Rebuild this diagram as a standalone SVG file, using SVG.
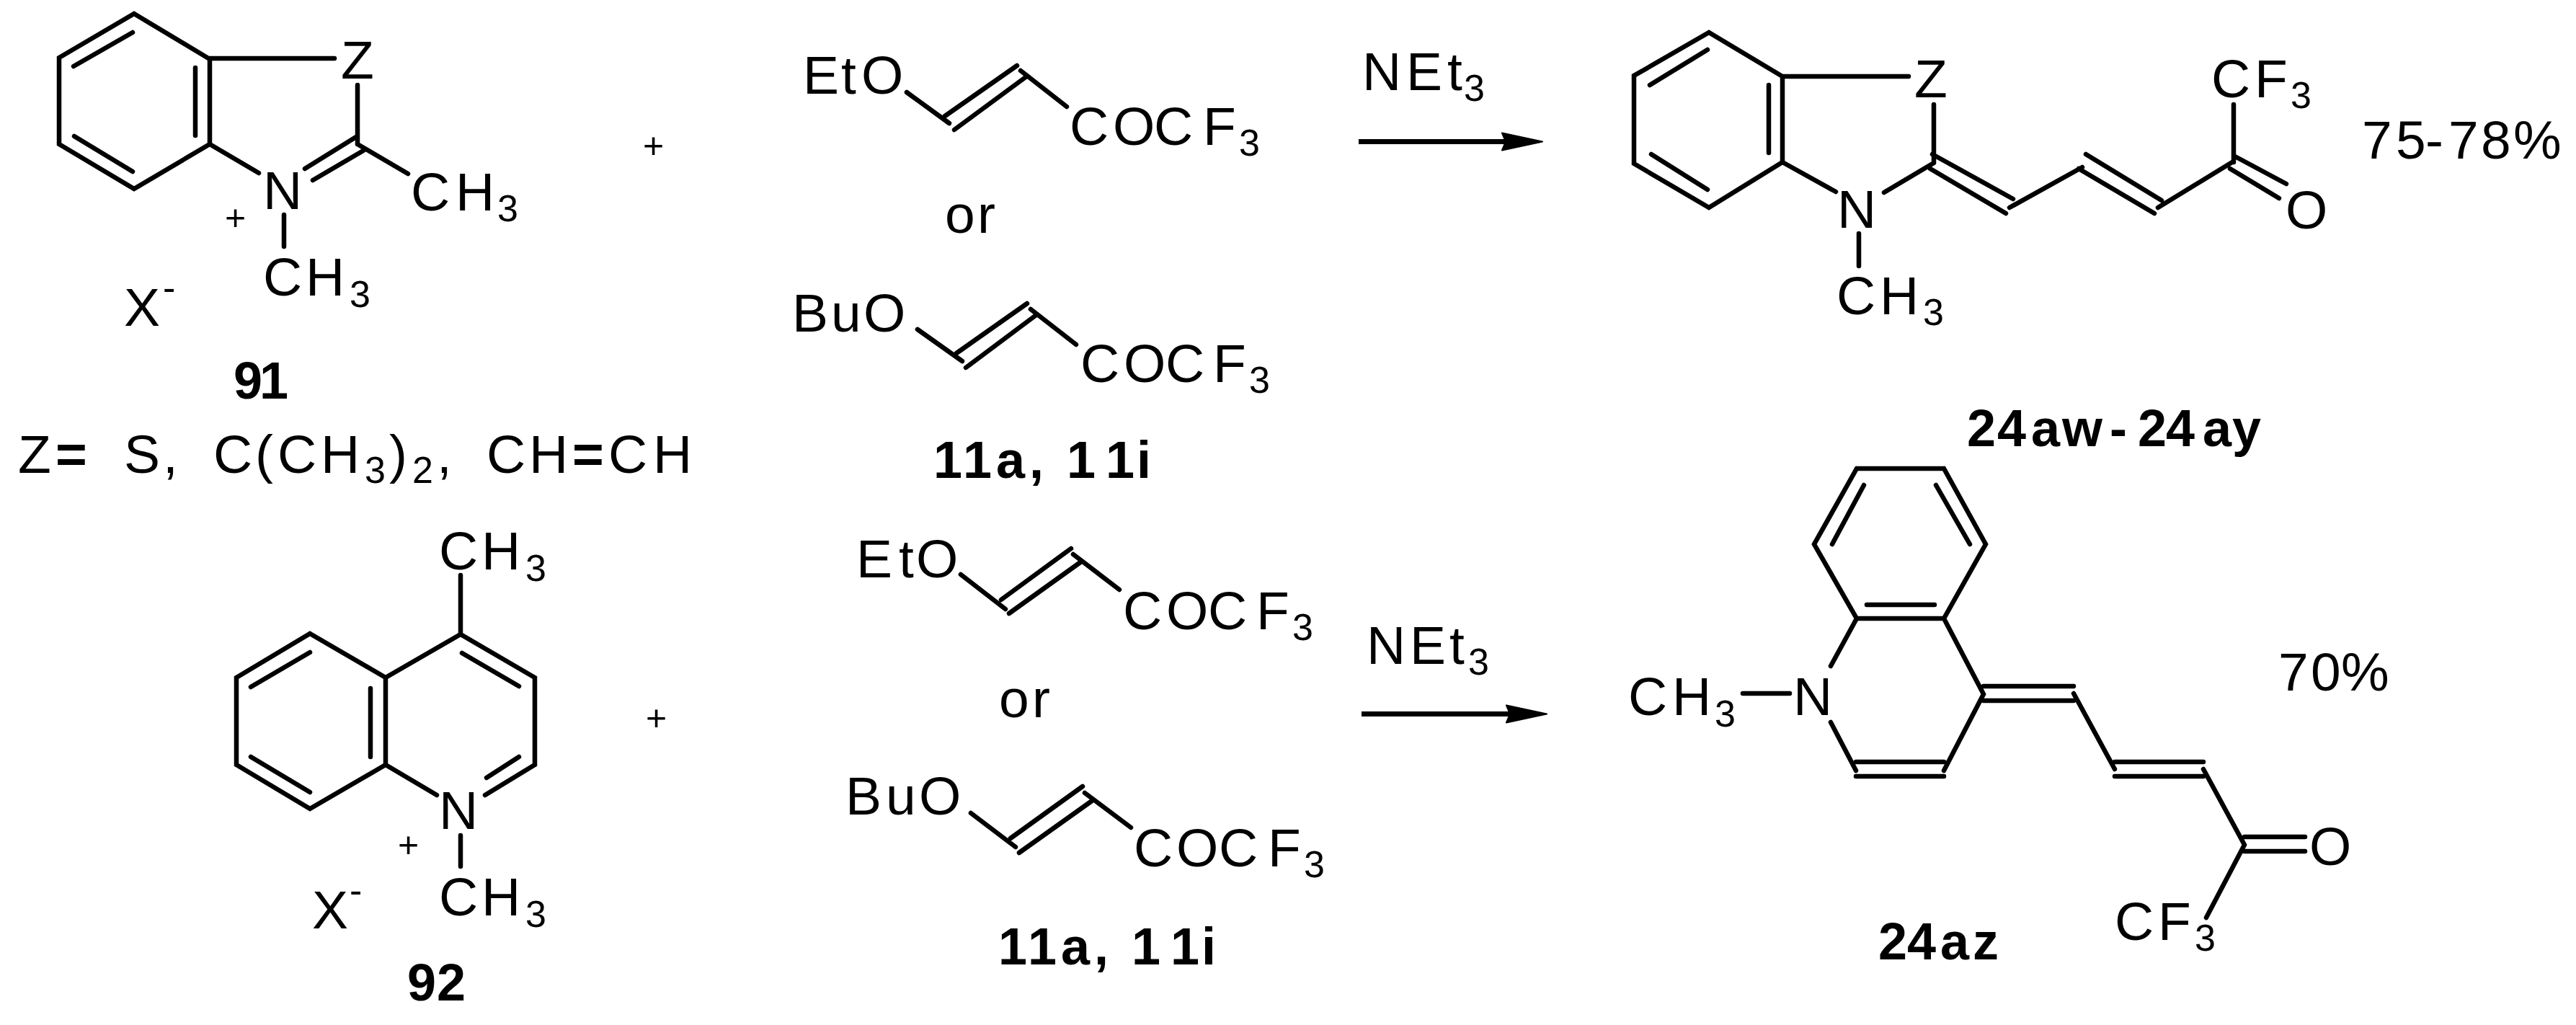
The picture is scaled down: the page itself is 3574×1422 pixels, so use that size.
<svg xmlns="http://www.w3.org/2000/svg" width="3574" height="1422" viewBox="0 0 3574 1422">
<style>
text{font-family:"Liberation Sans",Arial,sans-serif;font-size:75px;fill:#000}
.s{font-size:52px}
.b{font-weight:bold;font-size:72px}
.e{font-weight:bold}
.p{font-size:50px}
.bond{fill:none;stroke:#000;stroke-width:6.5;stroke-linecap:round;stroke-linejoin:miter}
.arrow{fill:none;stroke:#000;stroke-width:7;marker-end:url(#head)}
</style>
<defs>
<marker id="head" markerUnits="userSpaceOnUse" markerWidth="64" markerHeight="34" refX="6" refY="16" orient="auto"><path d="M1,4 L57,16 L1,28 L6,16z" fill="#000" stroke="#000" stroke-width="2" stroke-linejoin="round"/></marker>
</defs>
<rect width="3574" height="1422" fill="#fff"/>
<g id="connectors">
<path class="arrow" d="M1885,196.500H2089"/>
<path class="arrow" d="M1889,990.500H2095"/>
</g>
<g id="compound-91">
<path class="bond" d="M186,19L82,80V200L186,262L291,200V82L186,19M102,92L184,45M271,94V188M103,189L184,238M291,81H464M496,118V200M291,200L359,240M494,190L423,234M504,209L434,250M496,200L566,241M394,298V342"/>
<text x="473" y="109">Z</text>
<text x="365" y="290">N</text>
<text x="570 632" y="292">CH<tspan class="s" x="690" dy="15">3</tspan></text>
<text x="365 424" y="410">CH<tspan class="s" x="485" dy="16">3</tspan></text>
<text class="p" x="312" y="319">+</text>
<text x="172" y="452">X<tspan class="s" x="226" dy="-35">-</tspan></text>
<text class="b" x="324 360" y="553">91</text>
</g>
<text id="z-legend" y="656"><tspan x="25">Z</tspan><tspan class="e" x="77">=</tspan> <tspan x="172 226">S,</tspan> <tspan x="296 354 385 445">C(CH</tspan><tspan class="s" x="506" dy="14">3</tspan><tspan x="540" dy="-14">)</tspan><tspan class="s" x="572" dy="14">2</tspan><tspan x="606" dy="-14">,</tspan> <tspan x="675 734">CH</tspan><tspan class="e" x="794">=</tspan><tspan x="844 906">CH</tspan></text>
<text id="plus-1" class="p" x="892" y="219">+</text>
<g id="reagents-11a-11i-top">
<path class="bond" d="M1258,128L1317,171M1311,161L1411,91M1324,180L1423,107M1416,98L1480,148M1273,457L1335,501M1327,490L1425,421M1340,510L1439,436M1430,429L1493,478"/>
<text x="1114 1167 1195" y="130">EtO</text>
<text x="1484 1544 1601 1669" y="201">COCF<tspan class="s" x="1719" dy="15">3</tspan></text>
<text x="1311 1356" y="323">or</text>
<text x="1099 1153 1198" y="460">BuO</text>
<text x="1499 1559 1617 1683" y="530">COCF<tspan class="s" x="1733" dy="15">3</tspan></text>
<text class="b" x="1295 1336 1382 1428 1460 1480 1534 1577" y="663">11a, 11i</text>
</g>
<g id="net3-top"><text x="1890 1951 2008" y="125">NEt<tspan class="s" x="2031" dy="15">3</tspan></text></g>
<g id="product-24aw-24ay">
<path class="bond" d="M2371,45L2267,105V227L2371,288L2473,225V106L2371,45M2289,118L2369,69M2454,118V212M2291,214L2369,263M2473,106H2648M2683,145V225M2473,225L2547,266M2614,267L2683,226M2681,214L2793,276M2678,234L2783,296M2788,288L2889,232M2894,214L2999,278M2884,234L2989,296M2994,288L3097,225M3099,145V225M3099,216L3172,255M3094,234L3162,275M2579,324V369"/>
<text x="2656" y="135">Z</text>
<text x="2549" y="316">N</text>
<text x="3068 3128" y="135">CF<tspan class="s" x="3178" dy="15">3</tspan></text>
<text x="3171" y="317">O</text>
<text x="2548 2608" y="436">CH<tspan class="s" x="2668" dy="15">3</tspan></text>
<text x="3277 3324 3365 3397 3442 3487" y="220">75-78%</text>
<text class="b" x="2729 2771 2818 2861 2927 2966 3005 3056 3097" y="619">24aw-24ay</text>
</g>
<g id="compound-92">
<path class="bond" d="M639,798V880M430,879L328,940V1061L430,1122L535,1061V940L430,879M348,953L430,905M514,955V1050M348,1050L430,1099M535,940L639,880L742,940V1061L673,1103M641,906L720,952M720,1050L675,1079M535,1061L606,1103M639,1159V1202"/>
<text x="609 668" y="790">CH<tspan class="s" x="729" dy="16">3</tspan></text>
<text x="609" y="1150">N</text>
<text x="609 668" y="1270">CH<tspan class="s" x="729" dy="16">3</tspan></text>
<text class="p" x="552" y="1189">+</text>
<text x="433" y="1288">X<tspan class="s" x="485" dy="-35">-</tspan></text>
<text class="b" x="565 606" y="1388">92</text>
</g>
<text id="plus-2" class="p" x="896" y="1013">+</text>
<g id="reagents-11a-11i-bottom">
<path class="bond" d="M1333,797L1395,845M1389,832L1486,761M1400,851L1499,780M1489,769L1553,818M1347,1128L1409,1175M1402,1163L1502,1091M1414,1183L1515,1111M1505,1100L1569,1148"/>
<text x="1188 1247 1271" y="801">EtO</text>
<text x="1558 1618 1676 1743" y="873">COCF<tspan class="s" x="1793" dy="15">3</tspan></text>
<text x="1386 1432" y="995">or</text>
<text x="1173 1229 1275" y="1130">BuO</text>
<text x="1573 1632 1691 1759" y="1202">COCF<tspan class="s" x="1809" dy="15">3</tspan></text>
<text class="b" x="1385 1426 1472 1518 1550 1570 1624 1667" y="1338">11a, 11i</text>
</g>
<g id="net3-bottom"><text x="1896 1956 2011" y="921">NEt<tspan class="s" x="2037" dy="15">3</tspan></text></g>
<g id="product-24az">
<path class="bond" d="M2576,650H2697L2755,755L2697,858H2576L2517,755L2576,650M2586,673L2542,755M2686,673L2733,755M2590,839H2684M2576,858L2540,924M2697,858L2752,963L2697,1069M2575,1057H2697M2575,1077H2697M2540,1002L2575,1069M2418,962H2483M2752,952H2877M2752,972H2877M2877,962L2934,1067M2934,1057H3057M2934,1077H3057M3057,1067L3114,1172M3114,1161H3198M3114,1181H3198M3114,1172L3061,1273"/>
<text x="2488" y="992">N</text>
<text x="2259 2320" y="992">CH<tspan class="s" x="2379" dy="16">3</tspan></text>
<text x="3204" y="1200">O</text>
<text x="2934 2994" y="1304">CF<tspan class="s" x="3045" dy="15">3</tspan></text>
<text x="3161 3206 3248" y="958">70%</text>
<text class="b" x="2606 2646 2692 2737" y="1331">24az</text>
</g>
</svg>
